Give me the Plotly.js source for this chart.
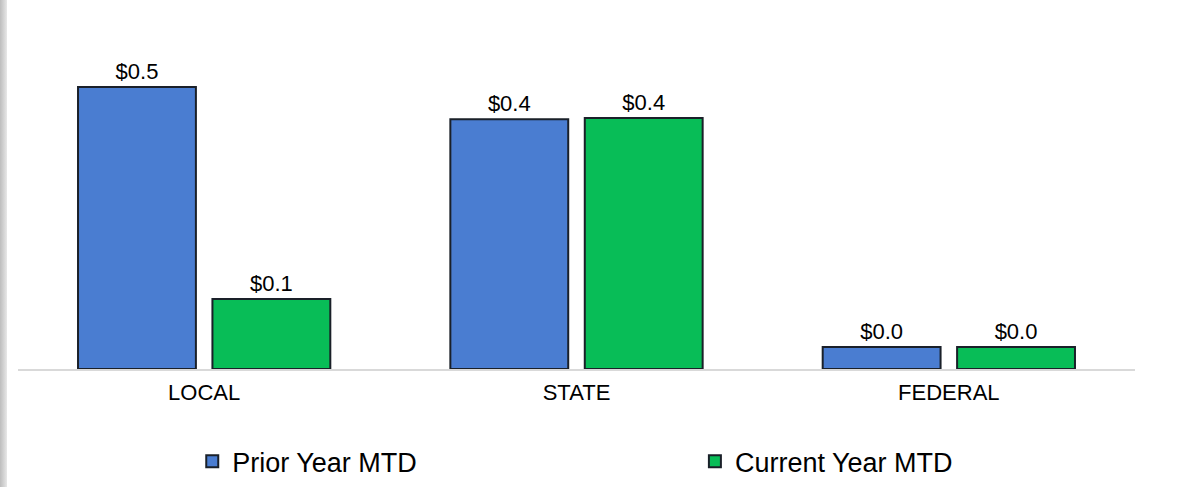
<!DOCTYPE html>
<html>
<head>
<meta charset="utf-8">
<script src="https://cdn.plot.ly/plotly-3.0.1.min.js"></script>
<style>
  html, body { margin: 0; padding: 0; background: #ffffff; }
  #chart { width: 1191px; height: 487px; }
  #edge { position: absolute; left: 0; top: 0; width: 7px; height: 487px;
          background: linear-gradient(to right, #bdbdbd, #d6d6d6 60%, #e8e8e8); z-index: 10; }
</style>
</head>
<body>
<div id="edge"></div>
<div id="chart"></div>
<script>
// Data
const categories = ['LOCAL', 'STATE', 'FEDERAL'];
const seriesNames = ['Prior Year MTD', 'Current Year MTD'];
const priorYearMTD = [0.50, 0.443, 0.039];
const currentYearMTD = [0.124, 0.445, 0.039];

const blue = '#4a7dd1';
const green = '#08bd57';
const outline = '#1a2029';
const fam = 'Liberation Sans, Arial, sans-serif';
const labelFont = { family: fam, size: 22, color: '#000000' };
const legendFont = { family: fam, size: 27, color: '#000000' };

const traces = [
  {
    type: 'bar', name: seriesNames[0], x: categories, y: priorYearMTD, legend: 'legend',
    marker: { color: blue, line: { color: outline, width: 2 } },
    texttemplate: '$%{y:.1f}', textposition: 'outside', textfont: labelFont,
    cliponaxis: false, hoverinfo: 'x+y'
  },
  {
    type: 'bar', name: seriesNames[1], x: categories, y: currentYearMTD, legend: 'legend2',
    marker: { color: green, line: { color: outline, width: 2 } },
    texttemplate: '$%{y:.1f}', textposition: 'outside', textfont: labelFont,
    cliponaxis: false, hoverinfo: 'x+y'
  }
];

const layout = {
  width: 1191, height: 487,
  margin: { l: 17.5, r: 56, t: 60, b: 118, pad: 0, autoexpand: false },
  paper_bgcolor: '#ffffff', plot_bgcolor: '#ffffff',
  barmode: 'group', bargap: 0.278, bargroupgap: 0.123,
  font: { family: fam, color: '#000000' },
  showlegend: true,
  legend: {
    orientation: 'h', x: 0.156, xanchor: 'left', y: -0.30, yanchor: 'middle',
    font: legendFont, bgcolor: 'rgba(0,0,0,0)'
  },
  legend2: {
    orientation: 'h', x: 0.606, xanchor: 'left', y: -0.30, yanchor: 'middle',
    font: legendFont, bgcolor: 'rgba(0,0,0,0)'
  },
  xaxis: {
    type: 'category', showgrid: false, zeroline: false,
    showline: true, linecolor: '#d9d9d9', linewidth: 2,
    ticks: '', tickfont: { family: fam, size: 22, color: '#000000' },
    ticklabelstandoff: 3, fixedrange: true
  },
  yaxis: {
    range: [0, 0.5479], visible: false, showgrid: false, zeroline: false, fixedrange: true
  }
};

Plotly.newPlot('chart', traces, layout, { displayModeBar: false, staticPlot: true });
</script>
</body>
</html>
